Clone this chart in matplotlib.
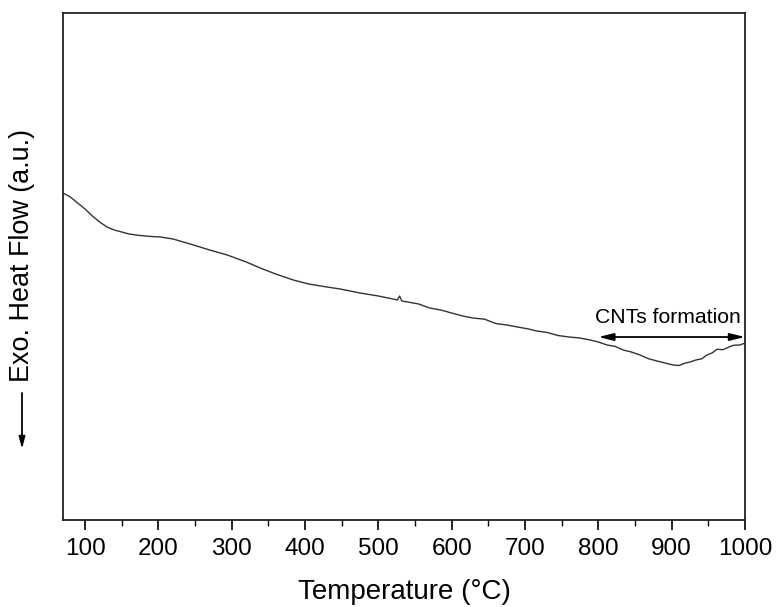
import matplotlib
matplotlib.use("Agg")
import matplotlib.pyplot as plt
from matplotlib.ticker import MultipleLocator

plt.rcParams['font.family'] = ['Liberation Sans', 'DejaVu Sans']

temperature = [70, 80, 90, 100, 110, 120, 130, 140, 150, 160, 175, 190, 203, 220, 248,
               270, 294, 320, 339, 360, 384, 405, 430, 448, 475, 500, 520, 526, 529, 532,
               540, 555, 570, 585, 600, 615, 629, 645, 660, 675, 690, 705, 716, 730, 745,
               760, 775, 789, 800, 812, 823, 834, 845, 857, 868, 880, 891, 902, 910, 918,
               925, 933, 941, 948, 955, 962, 970, 978, 985, 993, 1000]
heat_flow = [327, 323, 317, 311, 304, 298, 293, 290, 288, 286, 284.5, 283.5, 283, 281, 275,
             270, 265, 258, 252, 246, 240, 236, 233, 231, 227, 224, 221, 220, 224, 219,
             218, 216, 212, 210, 207, 204, 202, 200.8, 196.5, 195, 193, 191, 189, 187.6, 184.5,
             183, 182, 180, 178, 175, 173.6, 170, 168, 165, 161.4, 159, 157, 155, 154.5, 156.8,
             158, 160, 161.2, 165, 167, 170.8, 170.3, 173, 174.8, 175, 177]

xticks = [100, 200, 300, 400, 500, 600, 700, 800, 900, 1000]
arrow_range = [800, 1000]
arrow_level = 183
label_text = "CNTs formation"

fig = plt.figure(figsize=(7.77, 6.07), dpi=100)
ax = fig.add_axes([0.0811, 0.1433, 0.8777, 0.8353])

ax.plot(temperature, heat_flow, color='#333333', lw=1.0)

ax.set_xlim(70, 1000)
ax.set_ylim(0, 507)
ax.set_xticks(xticks)
ax.xaxis.set_minor_locator(MultipleLocator(50))
ax.tick_params(axis='x', which='major', direction='out', length=7.5, width=1.2,
               labelsize=17.5, pad=5.5, top=False)
ax.tick_params(axis='x', which='minor', direction='out', length=4, width=1.0, top=False)
ax.set_yticks([])
for s in ax.spines.values():
    s.set_linewidth(1.3)
    s.set_color('#222222')

ax.set_xlabel('Temperature (°C)', fontsize=20, labelpad=13.5)

ax.annotate('', xy=(arrow_range[1], arrow_level), xytext=(arrow_range[0], arrow_level),
            arrowprops=dict(arrowstyle='<|-|>,head_length=0.9,head_width=0.22',
                        color='black', lw=1.3, shrinkA=0, shrinkB=0))
ax.text(895, 197, label_text, fontsize=15.2, ha='center', va='baseline')

fig.text(0.028, 0.579, 'Exo. Heat Flow (a.u.)', rotation=90, fontsize=19.4,
         ha='center', va='center')
ax.annotate('', xy=(22, 607 - 449), xytext=(22, 607 - 393), xycoords='figure pixels',
            textcoords='figure pixels',
            arrowprops=dict(arrowstyle='-|>,head_length=0.7,head_width=0.18',
                            color='black', lw=1.3, shrinkA=0, shrinkB=0))

fig.savefig('out.png', dpi=100)
